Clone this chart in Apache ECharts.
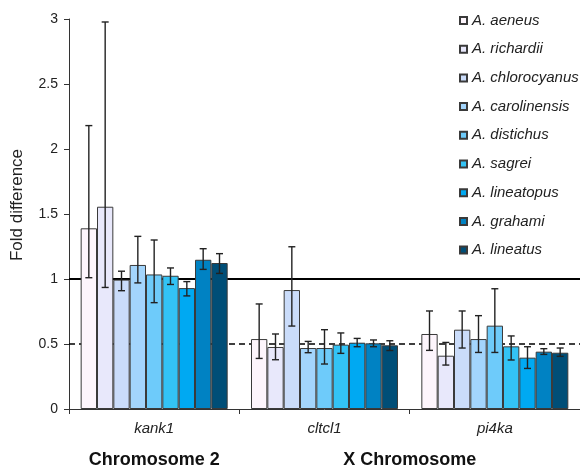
<!DOCTYPE html>
<html>
<head>
<meta charset="utf-8">
<script src="https://cdn.jsdelivr.net/npm/echarts@6/dist/echarts.min.js"></script>
<style>html,body{margin:0;padding:0;background:#fff}#c{width:580px;height:472px}</style>
</head>
<body>
<div id="c"></div>
<script>
const genes = ['kank1', 'cltcl1', 'pi4ka'];
const species = ['A. aeneus', 'A. richardii', 'A. chlorocyanus', 'A. carolinensis', 'A. distichus', 'A. sagrei', 'A. lineatopus', 'A. grahami', 'A. lineatus'];
const colors = ['#fdf5fc', '#e8e8fb', '#cadcfa', '#a3d5fc', '#6ecbfa', '#33c3f5', '#00a9f2', '#0082c3', '#004e77'];

// per gene, values in species order
const kank1Mean = [1.39, 1.556, 0.995, 1.108, 1.035, 1.025, 0.93, 1.148, 1.123];
const kank1Hi   = [2.18, 2.977, 1.06, 1.328, 1.30, 1.085, 0.98, 1.233, 1.195];
const kank1Lo   = [1.01, 0.935, 0.91, 0.97, 0.818, 0.958, 0.87, 1.074, 1.043];

const cltcl1Mean = [0.538, 0.477, 0.915, 0.469, 0.469, 0.495, 0.51, 0.505, 0.49];
const cltcl1Hi   = [0.808, 0.577, 1.248, 0.52, 0.61, 0.585, 0.543, 0.531, 0.525];
const cltcl1Lo   = [0.389, 0.379, 0.638, 0.433, 0.346, 0.428, 0.479, 0.479, 0.45];

const pi4kaMean = [0.577, 0.41, 0.61, 0.538, 0.641, 0.482, 0.395, 0.441, 0.433];
const pi4kaHi   = [0.754, 0.512, 0.754, 0.718, 0.925, 0.562, 0.479, 0.464, 0.469];
const pi4kaLo   = [0.451, 0.338, 0.469, 0.435, 0.435, 0.377, 0.312, 0.42, 0.405];

const yTicks = [0, 0.5, 1, 1.5, 2, 2.5, 3];
const chromosomeLabels = ['Chromosome 2', 'X Chromosome'];
const chromosomePos = [0.5, 2]; // in gene-index units (center of kank1; between cltcl1 and pi4ka)
const refSolid = 1;
const refDashed = 0.5;

const means = [kank1Mean, cltcl1Mean, pi4kaMean];
const his = [kank1Hi, cltcl1Hi, pi4kaHi];
const los = [kank1Lo, cltcl1Lo, pi4kaLo];

const CAT_GAP = 0.137;

const barSeries = species.map((name, s) => ({
  name: name,
  type: 'bar',
  xAxisIndex: 0,
  data: genes.map((g, gi) => means[gi][s]),
  itemStyle: { color: colors[s], borderColor: '#3a3a3a', borderWidth: 1 },
  barGap: '0%',
  barCategoryGap: (CAT_GAP * 100) + '%',
  z: 2,
  emphasis: { disabled: true }
}));

const errData = [];
genes.forEach((g, gi) => {
  species.forEach((sp, s) => {
    errData.push([gi, s, los[gi][s], his[gi][s]]);
  });
});

const errSeries = {
  type: 'custom',
  xAxisIndex: 0,
  z: 4,
  silent: true,
  renderItem: function (params, api) {
    const gi = api.value(0), s = api.value(1);
    const lo = api.value(2), hi = api.value(3);
    const band = api.size([1, 0])[0];
    const center = api.coord([gi, 0])[0];
    const total = band * (1 - CAT_GAP);
    const bw = total / species.length;
    const x = center - total / 2 + bw * (s + 0.5);
    const yLo = api.coord([gi, lo])[1];
    const yHi = api.coord([gi, hi])[1];
    const cap = 3.5;
    const style = { stroke: '#222', lineWidth: 1.4, fill: null };
    return {
      type: 'group',
      children: [
        { type: 'line', shape: { x1: x, y1: yLo, x2: x, y2: yHi }, style: style },
        { type: 'line', shape: { x1: x - cap, y1: yHi, x2: x + cap, y2: yHi }, style: style },
        { type: 'line', shape: { x1: x - cap, y1: yLo, x2: x + cap, y2: yLo }, style: style }
      ]
    };
  },
  data: errData
};

const refSeries = {
  type: 'line',
  xAxisIndex: 0,
  data: [],
  silent: true,
  markLine: {
    silent: true,
    z: 1,
    symbol: ['none', 'none'],
    label: { show: false },
    data: [
      { yAxis: refSolid, lineStyle: { color: '#000', width: 2, type: 'solid' } },
      { yAxis: refDashed, lineStyle: { color: '#000', width: 1.6, type: [6, 4] } }
    ]
  }
};

const chart = echarts.init(document.getElementById('c'), null, { renderer: 'canvas' });
chart.setOption({
  backgroundColor: '#fff',
  animation: false,
  grid: { left: 69, right: 0, top: 19, bottom: 63, containLabel: false },
  legend: {
    orient: 'vertical',
    left: 459,
    top: 13,
    padding: 0,
    itemWidth: 7,
    itemHeight: 7,
    itemGap: 13.7,
    icon: 'rect',
    data: species,
    textStyle: { fontFamily: 'Liberation Sans, Arial, sans-serif', fontSize: 15, fontStyle: 'italic', color: '#222', lineHeight: 15 }
  },
  xAxis: [
    {
      type: 'category',
      data: genes,
      position: 'bottom',
      axisLine: { lineStyle: { color: '#333', width: 1 } },
      axisTick: { show: true, inside: false, length: 5, lineStyle: { color: '#333' } },
      axisLabel: { margin: 12, fontFamily: 'Liberation Sans, Arial, sans-serif', fontSize: 15, fontStyle: 'italic', color: '#222' },
      splitLine: { show: false }
    },
    {
      type: 'value',
      min: 0,
      max: genes.length,
      position: 'bottom',
      axisLine: { show: false },
      axisTick: { show: false },
      splitLine: { show: false },
      axisLabel: {
        show: true,
        customValues: chromosomePos,
        margin: 42,
        fontFamily: 'Liberation Sans, Arial, sans-serif',
        fontSize: 18,
        fontWeight: 'bold',
        color: '#111',
        formatter: function (v) {
          const i = chromosomePos.indexOf(v);
          return i >= 0 ? chromosomeLabels[i] : '';
        }
      }
    }
  ],
  yAxis: {
    type: 'value',
    min: 0,
    max: 3,
    interval: 0.5,
    name: 'Fold difference',
    nameLocation: 'middle',
    nameGap: 43,
    nameTextStyle: { fontFamily: 'Liberation Sans, Arial, sans-serif', fontSize: 17, color: '#222', padding: [0, 0, 0, 18] },
    axisLine: { show: true, lineStyle: { color: '#333', width: 1 } },
    axisTick: { show: true, inside: false, length: 5, lineStyle: { color: '#333' } },
    axisLabel: {
      margin: 11,
      fontFamily: 'Liberation Sans, Arial, sans-serif',
      fontSize: 14,
      color: '#222',
      customValues: yTicks,
      formatter: function (v) { return String(v); }
    },
    splitLine: { show: false }
  },
  series: [refSeries].concat(barSeries, [errSeries])
});
</script>
</body>
</html>
